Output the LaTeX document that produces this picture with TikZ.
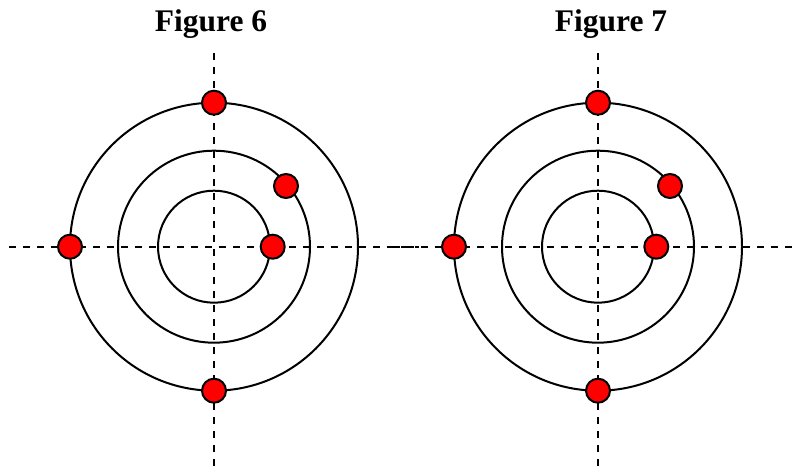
\documentclass[tikz,border=0pt]{standalone}
\usepackage{fontspec}
\setmainfont{Liberation Serif}
\usepackage{tikz}

\tikzset{
  orbit/.style={line width=1.5pt},
  axis/.style={line width=1.5pt, dash pattern=on 5.25pt off 5.25pt},
  electron/.style={circle, draw, line width=1.5pt, fill=red, minimum size=18pt, inner sep=0pt},
  caption/.style={font=\bfseries\fontsize{23.6}{28}\selectfont, anchor=base}
}

\begin{document}
\begin{tikzpicture}[x=0.75pt, y=-0.75pt]

    \useasboundingbox (0,0) rectangle (793,466);

    \def\yc{246.7}
    \def\rout{144}
    \def\rmid{96}
    \def\rin{56}

    % --- Figure 6 ---
    \def\xc{214}
    \node[caption] (cap6) at (211,32) {Figure 6};
    \draw[axis] (\xc-205,\yc) -- (\xc+205,\yc);
    \draw[axis] (\xc,53) -- (\xc,470);
    % Shells
    \draw[orbit] (\xc,\yc) circle (\rout);
    \draw[orbit] (\xc,\yc) circle (\rmid);
    \draw[orbit] (\xc,\yc) circle (\rin);
    % Electrons
    \node[electron] (f6top) at (\xc,\yc-\rout) {};
    \node[electron] (f6bot) at (\xc,\yc+\rout) {};
    \node[electron] (f6left) at (\xc-\rout,\yc) {};
    \node[electron] (f6mid) at (\xc+72,\yc-60.7) {};
    \node[electron] (f6in) at (\xc+58.7,\yc) {};

    % --- Figure 7 ---
    \def\xc{598}
    \node[caption] (cap7) at (611,32) {Figure 7};
    \draw[axis] (\xc-205,\yc) -- (\xc+205,\yc);
    \draw[axis] (\xc,53) -- (\xc,470);
    % Shells
    \draw[orbit] (\xc,\yc) circle (\rout);
    \draw[orbit] (\xc,\yc) circle (\rmid);
    \draw[orbit] (\xc,\yc) circle (\rin);
    % Electrons
    \node[electron] (f7top) at (\xc,\yc-\rout) {};
    \node[electron] (f7bot) at (\xc,\yc+\rout) {};
    \node[electron] (f7left) at (\xc-\rout,\yc) {};
    \node[electron] (f7mid) at (\xc+72,\yc-60.7) {};
    \node[electron] (f7in) at (\xc+58.3,\yc) {};

\end{tikzpicture}
\end{document}
